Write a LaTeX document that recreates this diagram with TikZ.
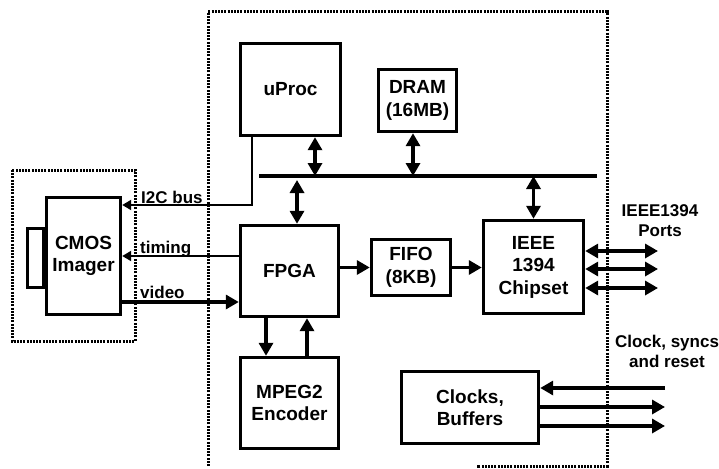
\documentclass[tikz,border=0pt]{standalone}
\usepackage{fontspec}
\setmainfont{Liberation Sans}
\usetikzlibrary{arrows.meta}

\begin{document}
\begin{tikzpicture}[x=1pt,y=-1pt]
\tikzset{
  block/.style={draw,line width=3.4pt,inner sep=0pt,align=center,font=\fontsize{19}{22.5}\selectfont\bfseries},
  lbl/.style={inner sep=0pt,align=center,font=\fontsize{17}{20}\selectfont\bfseries},
  frame/.style={line width=3pt,dash pattern=on 2pt off 1.2pt},
  busline/.style={line width=4pt},
  flow/.style={-{Triangle[length=13pt,width=14pt]},line width=3.6pt},
  dual/.style={{Triangle[length=13pt,width=14pt]}-{Triangle[length=13pt,width=14pt]},line width=3.6pt},
  wire/.style={-{Triangle[length=9pt,width=10pt]},line width=2pt}
}
\useasboundingbox (0,0) rectangle (719,468);
\fill[white] (0,0) rectangle (719,468);
\node[block,minimum width=16pt,minimum height=59pt] (n_lens) at (35.5,258) {};
\node[block,fill=white,minimum width=74pt,minimum height=117pt] (n_cmos) at (83.5,256) {CMOS\\Imager};
\node[block,minimum width=100pt,minimum height=92pt] (n_uproc) at (290.5,89.5) {uProc};
\node[block,minimum width=78pt,minimum height=62pt] (n_dram) at (417.5,100.5) {DRAM\\(16MB)};
\node[block,minimum width=98pt,minimum height=91pt] (n_fpga) at (289.5,271) {FPGA};
\node[block,minimum width=79pt,minimum height=56pt] (n_fifo) at (411,267.5) {FIFO\\(8KB)};
\node[block,minimum width=100pt,minimum height=93pt] (n_ieee) at (533.5,267) {IEEE\\1394\\Chipset};
\node[block,minimum width=98pt,minimum height=91pt] (n_mpeg) at (289.5,403) {MPEG2\\Encoder};
\node[block,minimum width=137pt,minimum height=72pt] (n_clocks) at (470,407.5) {Clocks,\\Buffers};
\node[lbl,anchor=base west] (l_i2c) at (141,203) {I2C bus};
\node[lbl,anchor=base west] (l_timing) at (140,253) {timing};
\node[lbl,anchor=base west] (l_video) at (140,298) {video};
\node[lbl] (l_ports) at (660,221) {IEEE1394\\Ports};
\node[lbl] (l_clock) at (667,351) {Clock, syncs\\and reset};
\coordinate (busL) at (259,176);
\coordinate (busR) at (597,176);
\coordinate (tapU) at (315,176);
\coordinate (tapD) at (413,176);
\coordinate (tapF) at (297,180);
\coordinate (i2c) at (252,205);
\coordinate (tim) at (0,256);
\coordinate (vid) at (0,302);
\draw[busline] (busL) -- (busR);
\draw[dual] (n_uproc.south -| tapU) -- (tapU);
\draw[dual] (n_dram.south -| tapD) -- (tapD);
\draw[dual] (tapF) -- (n_fpga.north -| tapF);
\draw[dual] (n_ieee.north |- busL) -- (n_ieee.north);
\draw[wire] (n_uproc.south -| i2c) |- (n_cmos.east |- i2c);
\draw[wire] (n_fpga.west |- tim) -- (n_cmos.east |- tim);
\draw[flow] (n_cmos.east |- vid) -- (n_fpga.west |- vid);
\draw[flow] (n_fpga.east |- n_fifo) -- (n_fifo.west);
\draw[flow] (n_fifo.east) -- (n_ieee.west |- n_fifo);
\draw[flow] ([xshift=-23.5pt]n_fpga.south) -- ([xshift=-23.5pt]n_mpeg.north);
\draw[flow] ([xshift=17.5pt]n_mpeg.north) -- ([xshift=17.5pt]n_fpga.south);
\foreach \y [count=\i] in {251,269,288} {
  \coordinate (port\i) at (658,\y);
  \draw[dual] (n_ieee.east |- port\i) -- (port\i);
}
\coordinate (clkin) at (665,388);
\coordinate (clkout1) at (665,407);
\coordinate (clkout2) at (665,426);
\draw[flow] (clkin) -- (n_clocks.east |- clkin);
\draw[flow] (n_clocks.east |- clkout1) -- (clkout1);
\draw[flow] (n_clocks.east |- clkout2) -- (clkout2);
\draw[frame] (12,170) rectangle (135,341);
\draw[frame] (208,466) -- (208,12) -- (607,12) -- (607,466) -- (477,466);
\end{tikzpicture}
\end{document}
